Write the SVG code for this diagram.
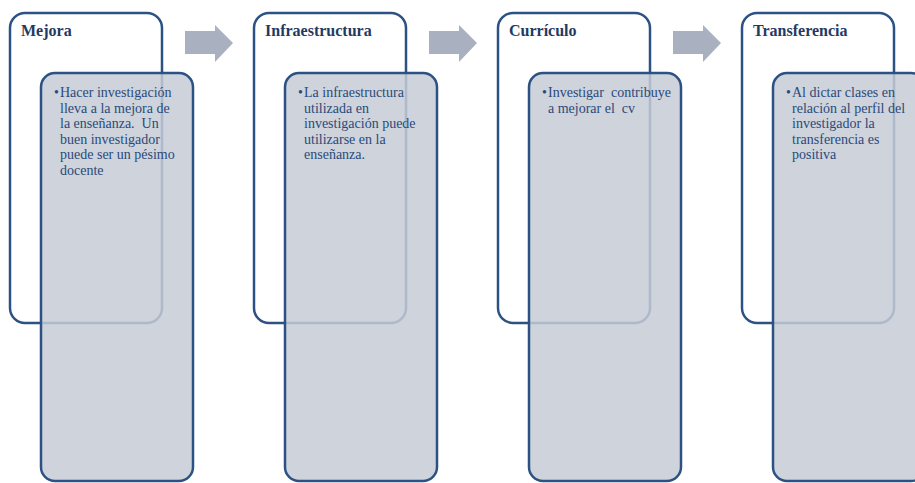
<svg xmlns="http://www.w3.org/2000/svg" width="915" height="483" viewBox="0 0 915 483">
<style>
.back{fill:#ffffff;stroke:#2c5283;stroke-width:2.5}
.front{fill:#c5cbd6;fill-opacity:0.85;stroke:#2c5283;stroke-width:2.5}
.title{font-family:"Liberation Serif",serif;font-weight:bold;font-size:16px;fill:#1f3a63}
.body{font-family:"Liberation Serif",serif;font-size:14px;fill:#2a4a7a;white-space:pre}
.arrow{fill:#a9b0bf}
</style>
<rect width="915" height="483" fill="#ffffff"/>
<g id="connectors">
<polygon class="arrow" points="185,31 215,31 215,25 233,43 215,62 215,54 185,54"/>
<polygon class="arrow" points="429,31 459,31 459,25 477,43 459,62 459,54 429,54"/>
<polygon class="arrow" points="673,31 703,31 703,25 721,43 703,62 703,54 673,54"/>
</g>
<g id="node-mejora">
<rect class="back" x="10" y="13" width="152" height="310" rx="15"/>
<text class="title" x="21" y="36">Mejora</text>
<rect class="front" x="41" y="73" width="152" height="408" rx="14"/>
<text class="body" x="54" y="97">•</text>
<text class="body" x="60" y="97">Hacer investigación</text>
<text class="body" x="60" y="112.5">lleva a la mejora de</text>
<text class="body" x="60" y="128">la enseñanza.  Un</text>
<text class="body" x="60" y="143.5">buen investigador</text>
<text class="body" x="60" y="159">puede ser un pésimo</text>
<text class="body" x="60" y="174.5">docente</text>
</g>
<g id="node-infraestructura">
<rect class="back" x="254" y="13" width="152" height="310" rx="15"/>
<text class="title" x="265" y="36">Infraestructura</text>
<rect class="front" x="285" y="73" width="152" height="408" rx="14"/>
<text class="body" x="298" y="97">•</text>
<text class="body" x="304" y="97">La infraestructura</text>
<text class="body" x="304" y="112.5">utilizada en</text>
<text class="body" x="304" y="128">investigación puede</text>
<text class="body" x="304" y="143.5">utilizarse en la</text>
<text class="body" x="304" y="159">enseñanza.</text>
</g>
<g id="node-curriculo">
<rect class="back" x="498" y="13" width="152" height="310" rx="15"/>
<text class="title" x="509" y="36">Currículo</text>
<rect class="front" x="529" y="73" width="152" height="408" rx="14"/>
<text class="body" x="542" y="97">•</text>
<text class="body" x="548" y="97">Investigar  contribuye</text>
<text class="body" x="548" y="112.5">a mejorar el  cv</text>
</g>
<g id="node-transferencia">
<rect class="back" x="742" y="13" width="152" height="310" rx="15"/>
<text class="title" x="753" y="36">Transferencia</text>
<rect class="front" x="773" y="73" width="152" height="408" rx="14"/>
<text class="body" x="786" y="97">•</text>
<text class="body" x="792" y="97">Al dictar clases en</text>
<text class="body" x="792" y="112.5">relación al perfil del</text>
<text class="body" x="792" y="128">investigador la</text>
<text class="body" x="792" y="143.5">transferencia es</text>
<text class="body" x="792" y="159">positiva</text>
</g>
</svg>
